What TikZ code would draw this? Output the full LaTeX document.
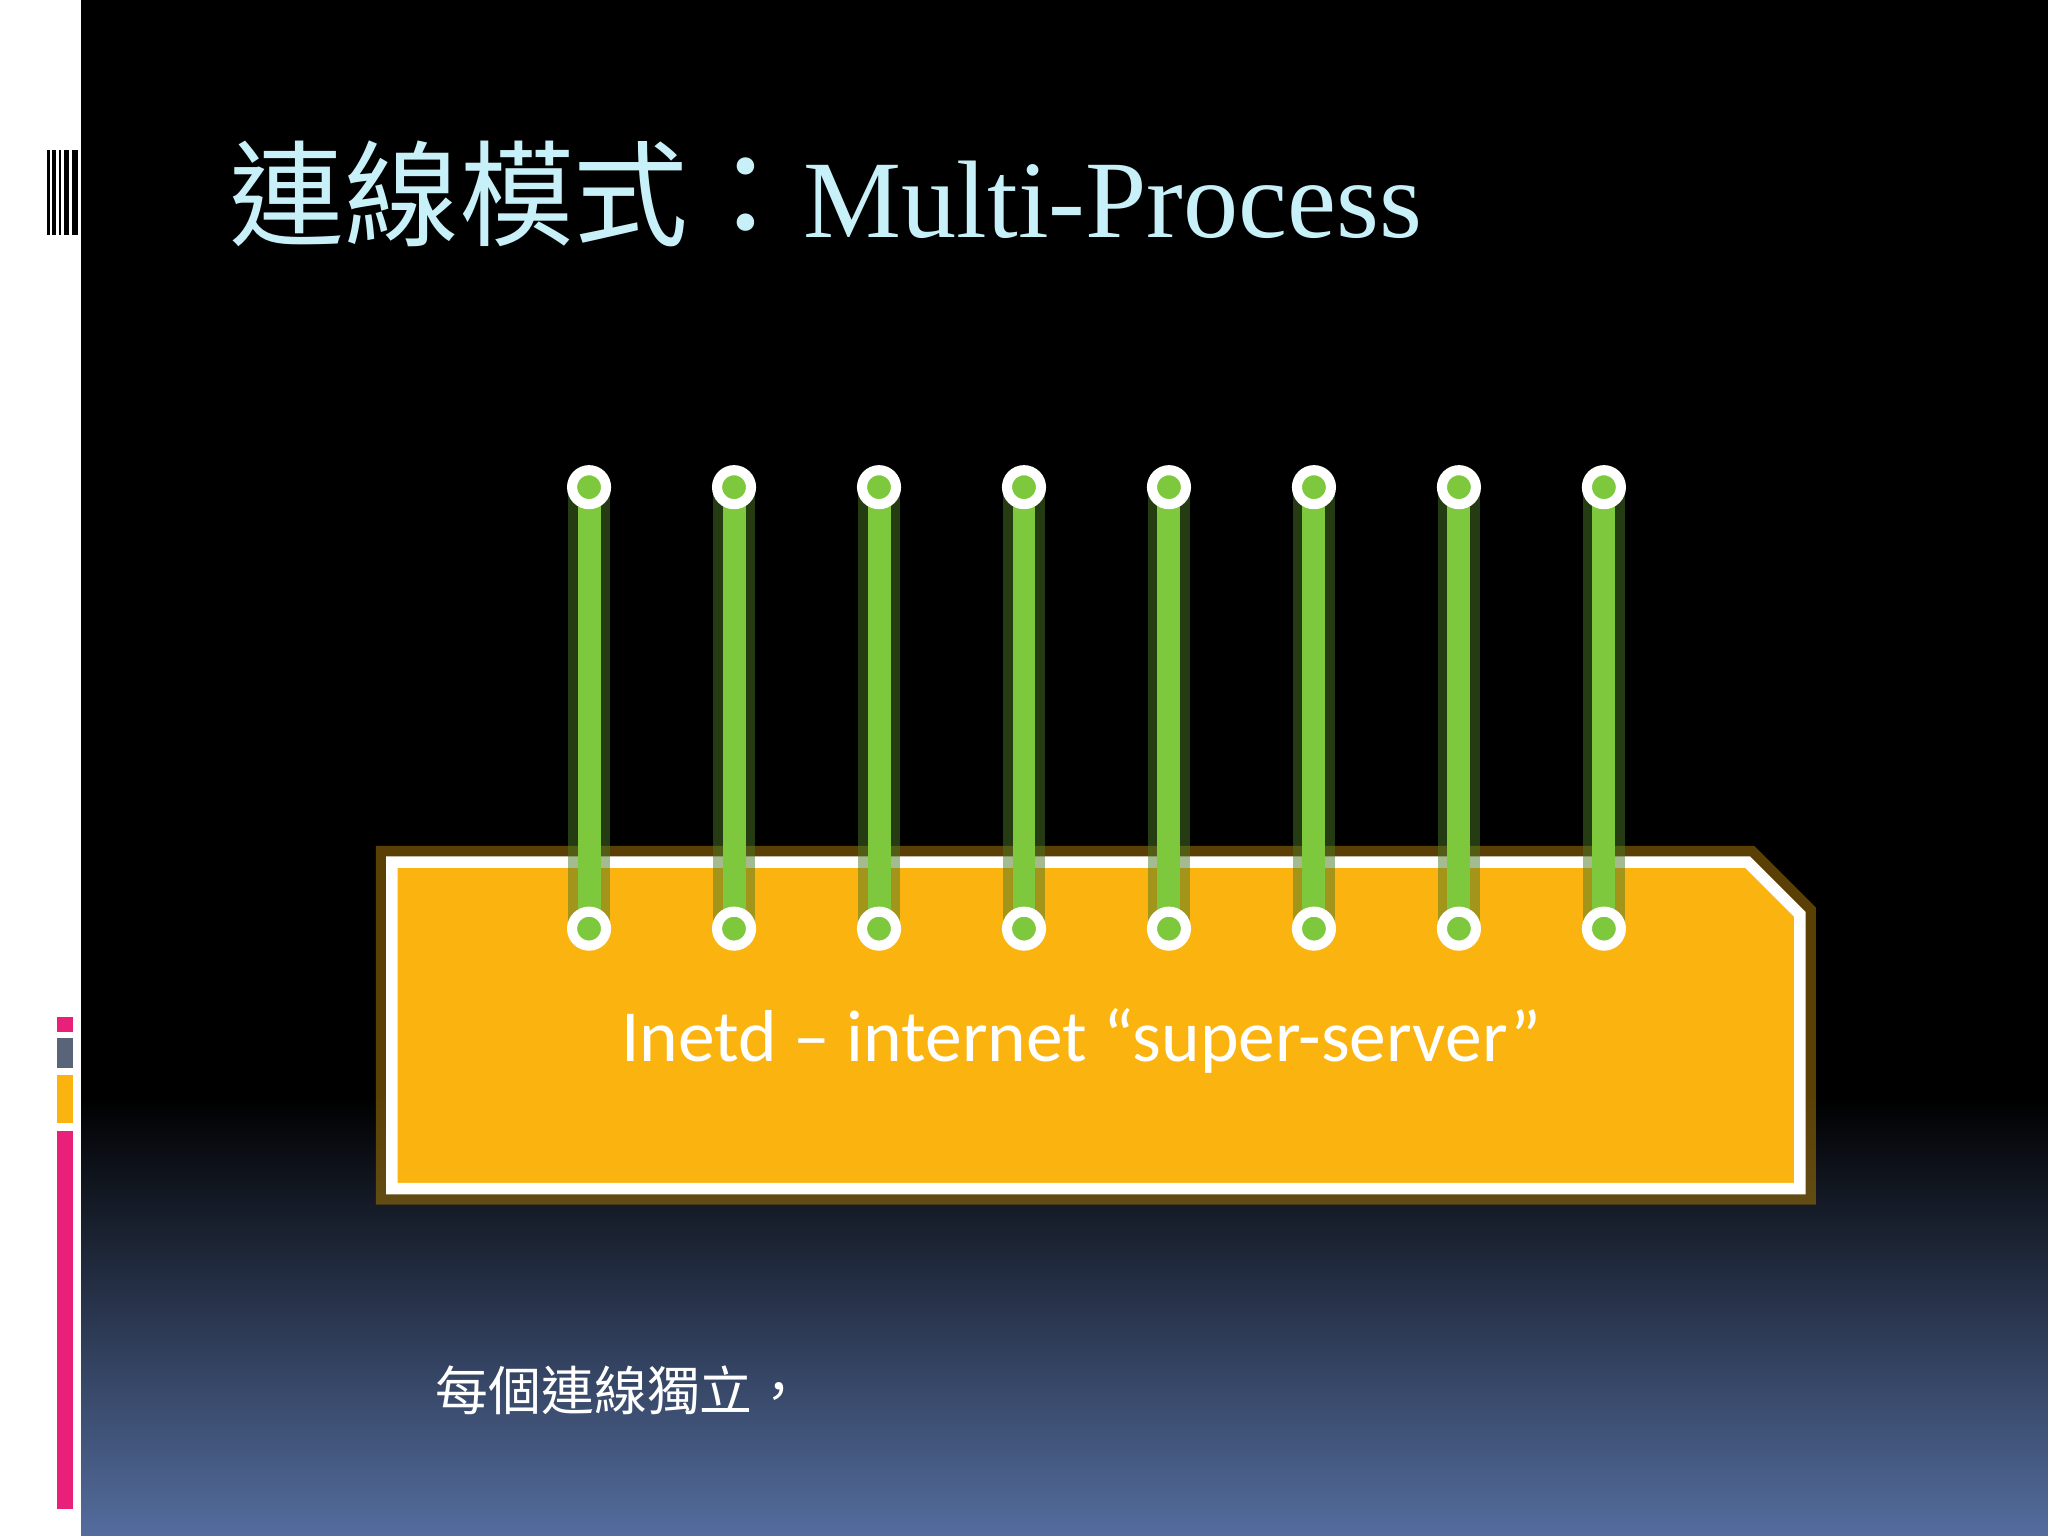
\documentclass[tikz,border=0pt]{standalone}
\usepackage{fontspec}
\setmainfont{Liberation Serif}
\newfontfamily\cjk{Noto Sans CJK TC}
\newfontfamily\carlitofont{Carlito}
\usetikzlibrary{calc}
\definecolor{boxorange}{HTML}{FBB40F}
\definecolor{wire}{HTML}{7DC83C}
\definecolor{titlecyan}{HTML}{C8F0F8}
\definecolor{botblue}{HTML}{546D9E}
\definecolor{barpink}{HTML}{E8207A}
\definecolor{bargray}{HTML}{5A6478}
\tikzset{
  wireline/.style={draw=wire, line width=5pt},
  glow/.style={draw=wire!60!black, line width=9pt, opacity=0.5},
  pin/.style={circle, draw=white, fill=wire, line width=2.2pt, minimum size=0.26cm, inner sep=0pt},
}
\begin{document}
\begin{tikzpicture}[x=0.01cm,y=-0.01cm]
\useasboundingbox (0,0) rectangle (1568,1176);
\fill[black] (0,0) rectangle (1568,1176);
\shade[top color=black, bottom color=botblue] (62,840) rectangle (1568,1176);
\fill[white] (0,0) rectangle (62,1176);
% barcode
\foreach \x/\w in {36/2,40/3,45/2,49/4,55/5}{\fill[black] (\x,115) rectangle ++(\w,65);}
% side bars
\fill[barpink] (44,779) rectangle (56,790);
\fill[bargray] (44,795) rectangle (56,818);
\fill[boxorange] (44,823) rectangle (56,860);
\fill[barpink] (44,866) rectangle (56,1155);
% title
\node[anchor=base west, inner sep=0pt, text=titlecyan] (title) at (175,182)
  {\fontsize{25pt}{25pt}\selectfont{\cjk 連線模式：}\fontsize{24pt}{24pt}\selectfont Multi-Process};
% box
\draw[draw=boxorange!60!black, line width=7pt, opacity=0.6] (300,660) -- (1338,660) -- (1378,700) -- (1378,910) -- (300,910) -- cycle;
\draw[fill=boxorange, draw=white, line width=2.5pt] (300,660) -- (1338,660) -- (1378,700) -- (1378,910) -- (300,910) -- cycle;
\node[text=white, inner sep=0pt] (label) at (828,797)
  {\carlitofont\fontsize{16pt}{16pt}\selectfont Inetd – internet “super-server”};
% wires
\foreach \i in {0,...,7}{
  \coordinate (t\i) at (451+111*\i,373);
  \coordinate (b\i) at (451+111*\i,711);
  \draw[glow] (t\i) -- (b\i);
  \draw[wireline] (t\i) -- (b\i);
  \node[pin] at (t\i) {};
  \node[pin] at (b\i) {};
}
\node[anchor=base west, text=white, inner sep=0pt] (note) at (333,1080)
  {\cjk\fontsize{11.5pt}{12pt}\selectfont 每個連線獨立，};
\end{tikzpicture}
\end{document}
